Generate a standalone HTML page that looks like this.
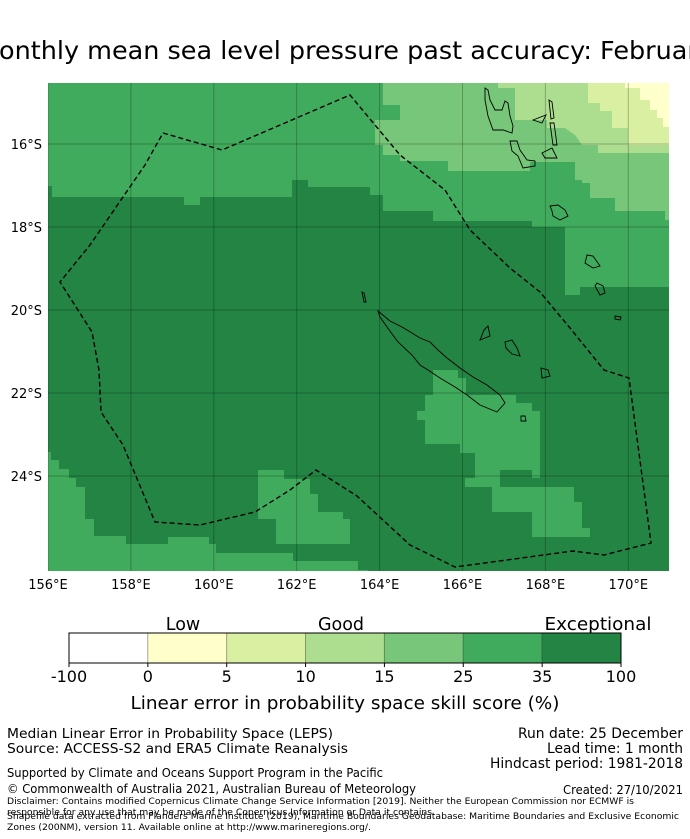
<!DOCTYPE html>
<html><head><meta charset="utf-8"><style>
html,body{margin:0;padding:0;background:#fff;}
svg{display:block;font-family:"DejaVu Sans","Liberation Sans",sans-serif;}
</style></head><body>
<svg id="fig" width="690" height="839" viewBox="0 0 690 839">
<text x="345" y="59" font-size="25" text-anchor="middle" textLength="736" lengthAdjust="spacingAndGlyphs" fill="#000">Monthly mean sea level pressure past accuracy: February</text>
<defs><clipPath id="mapclip"><rect x="48" y="83" width="621" height="488"/></clipPath></defs>
<g id="map" clip-path="url(#mapclip)"></g>
<g id="axes"></g>
<g id="cbar"></g>
<text x="183" y="630" font-size="17.5" text-anchor="middle">Low</text>
<text x="341" y="630" font-size="17.5" text-anchor="middle">Good</text>
<text x="598" y="630" font-size="17.5" text-anchor="middle" textLength="107" lengthAdjust="spacingAndGlyphs">Exceptional</text>
<text x="345" y="709" font-size="17.5" text-anchor="middle" textLength="429" lengthAdjust="spacingAndGlyphs">Linear error in probability space skill score (%)</text>
<g font-size="13">
<text x="7" y="738" textLength="326" lengthAdjust="spacingAndGlyphs">Median Linear Error in Probability Space (LEPS)</text>
<text x="7" y="753" textLength="341" lengthAdjust="spacingAndGlyphs">Source: ACCESS-S2 and ERA5 Climate Reanalysis</text>
<text x="683" y="738" font-size="14" text-anchor="end" textLength="165" lengthAdjust="spacingAndGlyphs">Run date: 25 December</text>
<text x="683" y="753" font-size="14" text-anchor="end" textLength="136" lengthAdjust="spacingAndGlyphs">Lead time: 1 month</text>
<text x="683" y="768" font-size="14" text-anchor="end" textLength="193" lengthAdjust="spacingAndGlyphs">Hindcast period: 1981-2018</text>
<text x="7" y="777" font-size="12" textLength="376" lengthAdjust="spacingAndGlyphs">Supported by Climate and Oceans Support Program in the Pacific</text>
<text x="7" y="793" font-size="12" textLength="409" lengthAdjust="spacingAndGlyphs">© Commonwealth of Australia 2021, Australian Bureau of Meteorology</text>
<text x="683" y="794" font-size="12" text-anchor="end" textLength="120" lengthAdjust="spacingAndGlyphs">Created: 27/10/2021</text>
<text x="7" y="804" font-size="9" textLength="627" lengthAdjust="spacingAndGlyphs">Disclaimer: Contains modified Copernicus Climate Change Service Information [2019]. Neither the European Commission nor ECMWF is</text>
<text x="7" y="815" font-size="9" textLength="428" lengthAdjust="spacingAndGlyphs">responsible for any use that may be made of the Copernicus Information or Data it contains.</text>
<text x="7" y="819" font-size="9" textLength="672" lengthAdjust="spacingAndGlyphs">Shapefile data extracted from Flanders Marine Institute (2019), Maritime Boundaries Geodatabase: Maritime Boundaries and Exclusive Economic</text>
<text x="7" y="830" font-size="9" textLength="364" lengthAdjust="spacingAndGlyphs">Zones (200NM), version 11. Available online at http://www.marineregions.org/.</text>
</g>
</svg>
<script>
var NS="http://www.w3.org/2000/svg";
var lonTicks=[156,158,160,162,164,166,168,170];
var latTicks=[16,18,20,22,24];
var cbarBounds=["-100","0","5","10","15","25","35","100"];
var cbarColors=["#ffffff","#ffffcc","#d9f0a3","#addd8e","#78c679","#41ab5d","#238443"];
function X(lon){return 48+(lon-156)*41.45;}
function Y(lat){return 144+(lat-16)*41.5;}
function mk(tag,attrs,parent){var e=document.createElementNS(NS,tag);for(var k in attrs)e.setAttribute(k,attrs[k]);parent.appendChild(e);return e;}
var map=document.getElementById('map'),axes=document.getElementById('axes'),cbar=document.getElementById('cbar');
var bg=mk('rect',{x:48,y:83,width:621,height:488,fill:'#238443'},map);


var regions=[
["#41ab5d","48,186 52,186 52,197 184,197 184,205 200,205 200,197 292,197 292,180 308,180 308,187 370,187 370,195 383,195 383,211 433,211 433,221 532,221 532,227 565,227 565,295 580,295 580,287 669,287 669,83 48,83","top-medium-region"],
["#41ab5d","48,452 51,452 51,460 59,460 59,469 69,469 69,478 76,478 76,487 85,487 85,519 94,519 94,536 126,536 126,544 168,544 168,537 209,537 209,544 216,544 216,553 293,553 293,561 358,561 358,570 368,570 368,575 48,575","bottom-left-medium-region"],
["#41ab5d","258,470 284,470 284,479 310,479 310,494 318,494 318,512 343,512 343,519 350,519 350,544 276,544 276,519 258,519","bottom-middle-medium-region"],
["#41ab5d","433,370 458,370 458,378 466,378 466,395 516,395 516,403 532,403 532,411 540,411 540,478 532,478 532,470 500,470 500,487 465,487 465,478 475,478 475,453 460,453 460,444 425,444 425,420 417,420 417,411 425,411 425,395 433,395","new-caledonia-medium-region"],
["#41ab5d","492,487 574,487 574,502 582,502 582,528 590,528 590,537 532,537 532,512 492,512","bottom-right-medium-region"],
["#78c679","383,83 383,105 400,105 400,120 375,120 375,145 383,145 383,155 400,155 400,161 448,161 448,171 530,171 530,162 575,162 575,180 582,180 582,183 590,183 590,198 615,198 615,211 665,211 665,220 669,220 669,83","light-green-region"],
["#addd8e","498,83 498,88 515,88 515,120 547,120 547,128 565,128 575,135 582,145 598,145 598,153 669,153 669,83","pale-green-region"],
["#d9f0a3","588,83 588,103 600,103 600,111 612,111 612,128 628,128 628,145 669,145 669,83","yellow-green-region"],
["#ffffcc","625,83 625,88 640,88 640,100 650,100 650,110 657,110 657,118 663,118 663,127 669,127 669,83","yellow-region"]
];
regions.forEach(function(r){var p=mk('polygon',{points:r[1],fill:r[0]},map);

});
lonTicks.forEach(function(l){var ln=mk('line',{x1:X(l),x2:X(l),y1:83,y2:571,stroke:'rgba(0,0,0,0.25)','stroke-width':1},map);

});
latTicks.forEach(function(l){var ln=mk('line',{x1:48,x2:669,y1:Y(l),y2:Y(l),stroke:'rgba(0,0,0,0.25)','stroke-width':1},map);

});
var isl=[
"378,311 390,321 402,327 412,333 420,338 430,342 438,350 447,358 460,368 473,377 487,385 500,395 505,403 497,412 480,405 467,395 455,387 440,378 428,370 420,365 412,355 398,342 387,327 380,317",
"485,88 488,90 490,100 495,110 502,110 505,101 508,103 510,116 513,126 512,133 503,130 493,130 488,116 485,100",
"510,141 517,141 520,150 527,160 535,161 535,166 523,168 518,156 512,151",
"550,206 558,205 565,210 568,216 560,220 553,216 552,211",
"587,255 593,256 600,266 593,268 585,263",
"597,283 603,286 605,293 600,295 595,286",
"549,100 552,102 554,118 551,119",
"550,123 554,123 557,145 553,145",
"533,120 546,115 542,123",
"542,153 552,148 557,158 545,158",
"484,330 488,326 490,336 480,340",
"505,342 512,340 517,348 520,356 512,354 506,348",
"541,368 548,370 550,376 542,378",
"521,416 525,416 526,421 521,421",
"362,292 364,293 366,302 364,302",
"615,316 621,317 620,320 615,319"];
isl.forEach(function(s){var p=mk('polygon',{points:s,fill:'none',stroke:'#000','stroke-width':0.9},map);

});
var eez=mk('polyline',{points:"163,133 222,150 350,95 400,155 445,190 470,230 510,268 540,292 570,328 604,370 629,378 651,543 604,555 573,551 455,567 410,545 357,496 316,470 290,490 255,512 200,525 155,522 123,445 101,412 99,370 92,332 60,282 90,245 145,165 163,133",fill:'none',stroke:'#000','stroke-width':1.4,'stroke-dasharray':'5,3'},map);


lonTicks.forEach(function(l){var t=mk('text',{x:X(l),y:589,'font-size':13,'text-anchor':'middle'},axes);t.textContent=l+'°E';

});
latTicks.forEach(function(l){var t=mk('text',{x:42,y:Y(l)+5,'font-size':13,'text-anchor':'end'},axes);t.textContent=l+'°S';

});
var cx0=69,cx1=621,n=cbarColors.length,w=(cx1-cx0)/n;
cbarColors.forEach(function(c,i){var r=mk('rect',{x:cx0+i*w,y:633,width:w,height:30,fill:c,stroke:'rgba(0,0,0,0.25)','stroke-width':1},cbar);

});
mk('rect',{x:cx0,y:633,width:cx1-cx0,height:30,fill:'none',stroke:'#000','stroke-width':1},cbar);
cbarBounds.forEach(function(b,i){var x=cx0+i*w;mk('line',{x1:x,x2:x,y1:663,y2:667,stroke:'#000'},cbar);
var t=mk('text',{x:x,y:682,'font-size':16,'text-anchor':'middle'},cbar);t.textContent=b;

});
</script>
</body></html>
